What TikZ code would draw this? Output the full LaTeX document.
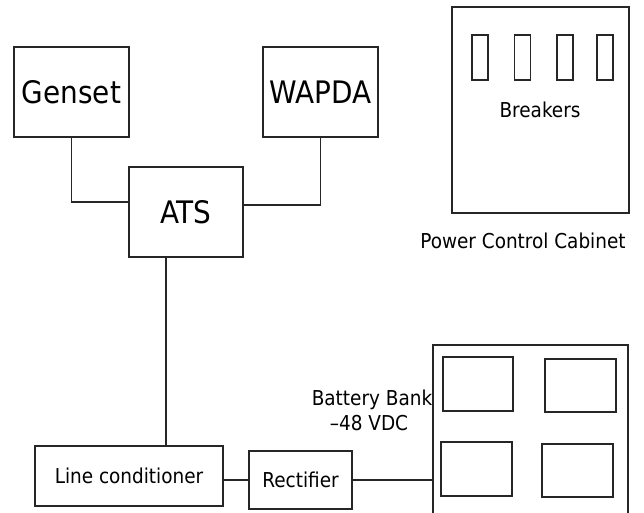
\documentclass[tikz,border=0pt]{standalone}
\usepackage{fontspec}
\setmainfont{DejaVu Sans Condensed}
\begin{document}
\begin{tikzpicture}[x=1pt,y=-1pt,
  box/.style={draw=black!85,line width=1.2pt,inner sep=0pt,rectangle},
  big/.style={font=\fontsize{31}{34}\selectfont},
  small/.style={font=\fontsize{20.5}{24}\selectfont},
  wire/.style={draw=black!85,line width=1.2pt}]
\clip (0,0) rectangle (644,512);
% top sources
\node[box,big,minimum width=115pt,minimum height=90pt] (gen) at (71.5,92) {Genset};
\node[box,big,minimum width=115pt,minimum height=90pt] (wap) at (320.5,92) {WAPDA};
\node[box,big,minimum width=114pt,minimum height=90pt] (ats) at (186,212) {ATS};
% bottom chain
\node[box,small,minimum width=188pt,minimum height=60pt] (lc) at (129,476) {Line conditioner};
\node[box,small,minimum width=103pt,minimum height=58pt] (rect) at (300.5,480) {Rectifier};
% battery bank
\node[box,minimum width=195pt,minimum height=215pt] (bat) at (530.5,452.5) {};
\node[box,minimum width=70pt,minimum height=54pt] (b1) at (478,384) {};
\node[box,minimum width=71pt,minimum height=53pt] (b2) at (580.5,385.5) {};
\node[box,minimum width=71pt,minimum height=54pt] (b3) at (476.5,469) {};
\node[box,minimum width=71pt,minimum height=53pt] (b4) at (577.5,470.5) {};
\node[small,anchor=base,inner sep=0pt] (batl1) at (372,405) {Battery Bank};
\node[small,anchor=base,inner sep=0pt] (batl2) at (369,430) {--48 VDC};
% power control cabinet
\node[box,minimum width=177pt,minimum height=206pt] (pcc) at (540.5,110) {};
\node[box,minimum width=16pt,minimum height=45pt] (k1) at (480,57.5) {};
\node[box,minimum width=16pt,minimum height=45pt] (k2) at (522.5,57.5) {};
\node[box,minimum width=16pt,minimum height=45pt] (k3) at (565,57.5) {};
\node[box,minimum width=16pt,minimum height=45pt] (k4) at (605,57.5) {};
\node[small,anchor=base,inner sep=0pt] (brk) at (540,117) {Breakers};
\node[small,anchor=base,inner sep=0pt] (pccl) at (523,248) {Power Control Cabinet};
% connectors
\draw[wire] (gen.south) |- ([yshift=10pt]ats.west);
\draw[wire] (wap.south) |- ([yshift=7pt]ats.east);
\path ([xshift=-20pt]ats.south) coordinate (atsb);
\draw[wire] (atsb) -- (atsb |- lc.north);
\draw[wire] (rect.west -| lc.east) -- (rect.west);
\draw[wire] (rect.east) -- (rect.east -| bat.west);
\end{tikzpicture}
\end{document}
